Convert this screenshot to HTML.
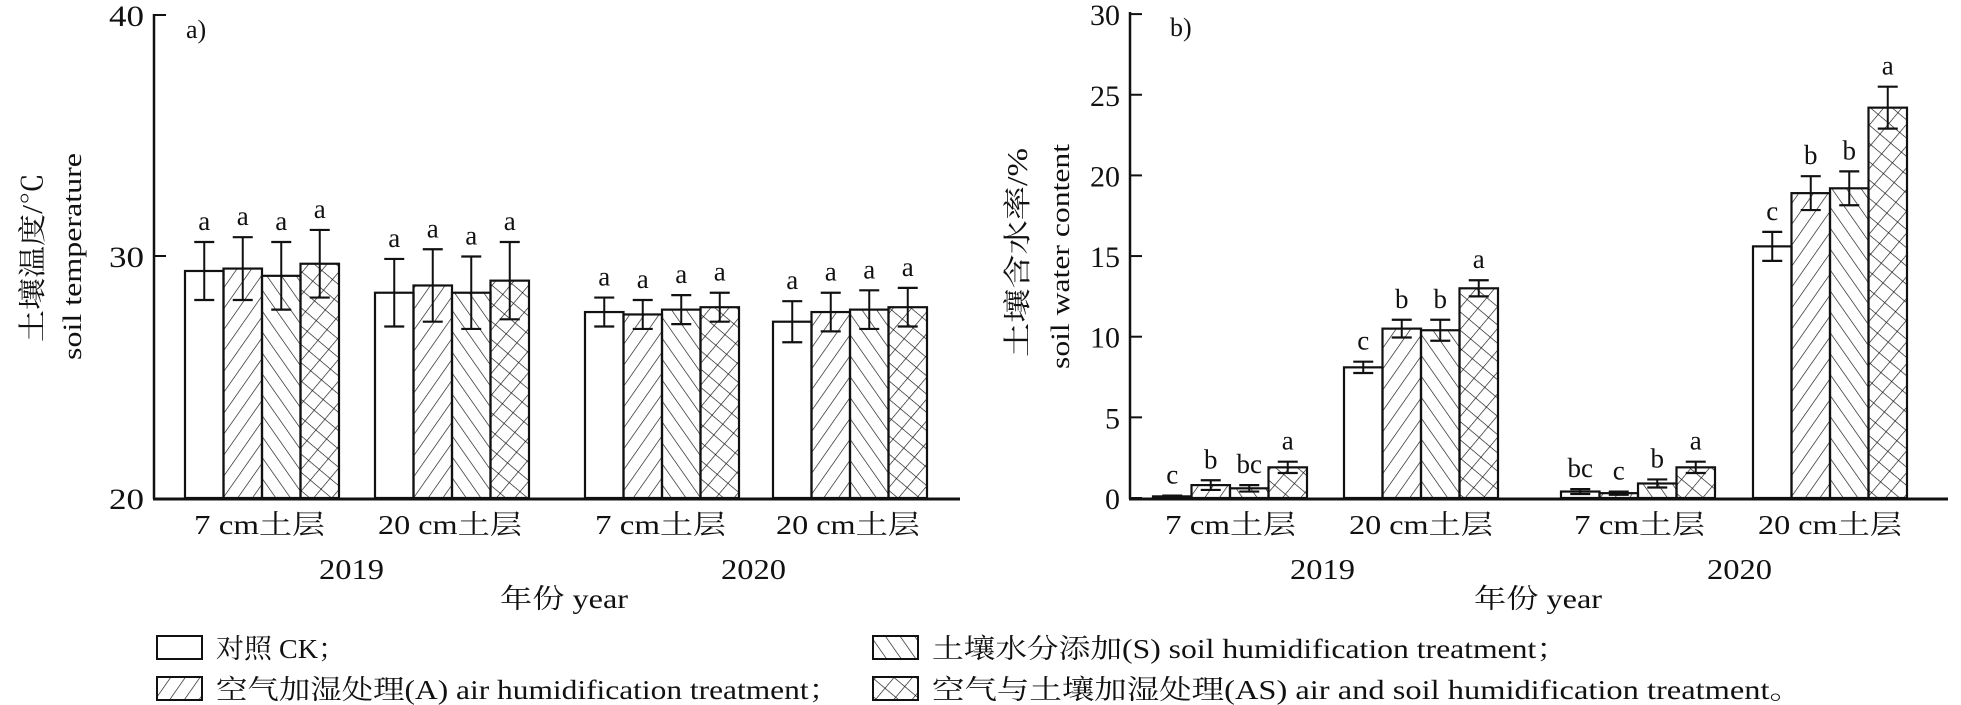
<!DOCTYPE html>
<html><head><meta charset="utf-8"><style>
html,body{margin:0;padding:0;background:#fff;}
svg{display:block;}
text{font-family:"Liberation Serif","Noto Serif CJK SC","Noto Sans CJK SC",serif;fill:#111;}
</style></head><body>
<svg id="s" width="1961" height="705" viewBox="0 0 1961 705" xmlns="http://www.w3.org/2000/svg">
<defs>
<pattern id="pa" width="12" height="12" patternUnits="userSpaceOnUse" patternTransform="rotate(35)"><line x1="0" y1="0" x2="0" y2="12" stroke="#111" stroke-width="1.3"/></pattern>
<pattern id="ps" width="12" height="12" patternUnits="userSpaceOnUse" patternTransform="rotate(-35)"><line x1="0" y1="0" x2="0" y2="12" stroke="#111" stroke-width="1.3"/></pattern>
<pattern id="pas" width="14" height="14" patternUnits="userSpaceOnUse" patternTransform="rotate(40)"><line x1="0" y1="0" x2="0" y2="14" stroke="#111" stroke-width="1.3"/><line x1="0" y1="0" x2="14" y2="0" stroke="#111" stroke-width="1.3"/></pattern>
</defs>
<g id="g"></g>
<line x1="154" y1="14" x2="154" y2="499" stroke="#111" stroke-width="2.5"/>
<line x1="153" y1="499" x2="960" y2="499" stroke="#111" stroke-width="3"/>
<line x1="154" y1="15" x2="166" y2="15" stroke="#111" stroke-width="2"/>
<line x1="154" y1="256" x2="166" y2="256" stroke="#111" stroke-width="2"/>
<text x="144" y="26" font-size="30" text-anchor="end" textLength="35" lengthAdjust="spacingAndGlyphs">40</text>
<text x="144" y="267" font-size="30" text-anchor="end" textLength="35" lengthAdjust="spacingAndGlyphs">30</text>
<text x="144" y="509" font-size="30" text-anchor="end" textLength="35" lengthAdjust="spacingAndGlyphs">20</text>
<text x="186" y="38" font-size="26">a)</text>
<text transform="translate(42,342) rotate(-90)" font-size="28" textLength="169" lengthAdjust="spacingAndGlyphs">土壤温度/℃</text>
<text transform="translate(81,360) rotate(-90)" font-size="26" textLength="207" lengthAdjust="spacingAndGlyphs">soil temperature</text>
<text x="194" y="534" font-size="27" textLength="131" lengthAdjust="spacingAndGlyphs">7 cm土层</text>
<text x="378" y="534" font-size="27" textLength="144" lengthAdjust="spacingAndGlyphs">20 cm土层</text>
<text x="595" y="534" font-size="27" textLength="131" lengthAdjust="spacingAndGlyphs">7 cm土层</text>
<text x="776" y="534" font-size="27" textLength="144" lengthAdjust="spacingAndGlyphs">20 cm土层</text>
<text x="319" y="579" font-size="29" textLength="65" lengthAdjust="spacingAndGlyphs">2019</text>
<text x="721" y="579" font-size="29" textLength="65" lengthAdjust="spacingAndGlyphs">2020</text>
<text x="500" y="608" font-size="27" textLength="128" lengthAdjust="spacingAndGlyphs">年份 year</text>
<line x1="1130" y1="12" x2="1130" y2="499" stroke="#111" stroke-width="2.5"/>
<line x1="1129" y1="499" x2="1948" y2="499" stroke="#111" stroke-width="3"/>
<g id="rt"></g>
<text x="1170" y="36" font-size="26">b)</text>
<text transform="translate(1027,357) rotate(-90)" font-size="28" textLength="209" lengthAdjust="spacingAndGlyphs">土壤含水率/%</text>
<text transform="translate(1069,369) rotate(-90)" font-size="26" textLength="225" lengthAdjust="spacingAndGlyphs">soil water content</text>
<text x="1165" y="534" font-size="27" textLength="131" lengthAdjust="spacingAndGlyphs">7 cm土层</text>
<text x="1349" y="534" font-size="27" textLength="144" lengthAdjust="spacingAndGlyphs">20 cm土层</text>
<text x="1574" y="534" font-size="27" textLength="131" lengthAdjust="spacingAndGlyphs">7 cm土层</text>
<text x="1758" y="534" font-size="27" textLength="144" lengthAdjust="spacingAndGlyphs">20 cm土层</text>
<text x="1290" y="579" font-size="29" textLength="65" lengthAdjust="spacingAndGlyphs">2019</text>
<text x="1707" y="579" font-size="29" textLength="65" lengthAdjust="spacingAndGlyphs">2020</text>
<text x="1474" y="608" font-size="27" textLength="128" lengthAdjust="spacingAndGlyphs">年份 year</text>
<rect x="157" y="636" width="45" height="23" fill="#fff" stroke="#111" stroke-width="2"/>
<text x="216" y="658" font-size="27" textLength="130" lengthAdjust="spacingAndGlyphs">对照 CK；</text>
<rect x="157" y="677" width="45" height="23" fill="url(#pa)" stroke="#111" stroke-width="2"/>
<text x="216" y="699" font-size="27" textLength="624" lengthAdjust="spacingAndGlyphs">空气加湿处理(A) air humidification treatment；</text>
<rect x="873" y="636" width="45" height="23" fill="url(#ps)" stroke="#111" stroke-width="2"/>
<text x="932" y="658" font-size="27" textLength="636" lengthAdjust="spacingAndGlyphs">土壤水分添加(S) soil humidification treatment；</text>
<rect x="873" y="677" width="45" height="23" fill="url(#pas)" stroke="#111" stroke-width="2"/>
<text x="932" y="699" font-size="27" textLength="870" lengthAdjust="spacingAndGlyphs">空气与土壤加湿处理(AS) air and soil humidification treatment。</text>
</svg>
<script>
var NS="http://www.w3.org/2000/svg",g=document.getElementById("g"),rt=document.getElementById("rt");
function el(t,a,p){var e=document.createElementNS(NS,t);for(var k in a)e.setAttribute(k,a[k]);(p||g).appendChild(e);return e;}
var fills=["#fff","url(#pa)","url(#ps)","url(#pas)"];
function draw(starts,vals,errs,lets,yf,base){
 for(var gi=0;gi<4;gi++)for(var i=0;i<4;i++){
  var x=starts[gi]+i*38.5,w=38.5,v=vals[gi][i],e=errs[gi][i],y=yf(v);
  el("rect",{x:x,y:y,width:w,height:base-y,fill:fills[i],stroke:"#111","stroke-width":2.2});
  var cx=x+w/2,y1=yf(v+e),y2=yf(v-e);
  el("line",{x1:cx,y1:y1,x2:cx,y2:y2,stroke:"#111","stroke-width":2});
  el("line",{x1:cx-10,y1:y1,x2:cx+10,y2:y1,stroke:"#111","stroke-width":2.2});
  el("line",{x1:cx-10,y1:y2,x2:cx+10,y2:y2,stroke:"#111","stroke-width":2.2});
  var t=el("text",{x:cx,y:y1-12,"font-size":27,"text-anchor":"middle"});t.textContent=lets[gi][i];
 }
}
draw([185,375,585,773],
 [[29.4,29.5,29.2,29.7],[28.5,28.8,28.5,29.0],[27.7,27.6,27.8,27.9],[27.3,27.7,27.8,27.9]],
 [[1.2,1.3,1.4,1.4],[1.4,1.5,1.5,1.6],[0.6,0.6,0.6,0.6],[0.85,0.8,0.8,0.8]],
 [["a","a","a","a"],["a","a","a","a"],["a","a","a","a"],["a","a","a","a"]],
 function(v){return 498-(v-20)*24.15;},498);
draw([1153,1344,1561,1753],
 [[0.1,0.8,0.6,1.9],[8.1,10.5,10.4,13.0],[0.4,0.3,0.9,1.9],[15.6,18.9,19.2,24.2]],
 [[0.05,0.3,0.2,0.35],[0.35,0.55,0.65,0.5],[0.15,0.1,0.25,0.35],[0.9,1.05,1.05,1.3]],
 [["c","b","bc","a"],["c","b","b","a"],["bc","c","b","a"],["c","b","b","a"]],
 function(v){return 498-v*16.13;},498);
[0,5,10,15,20,25,30].forEach(function(v){var y=498-v*16.13;
 el("line",{x1:1130,y1:y,x2:1142,y2:y,stroke:"#111","stroke-width":2},rt);
 var t=el("text",{x:1120,y:y+11,"font-size":30,"text-anchor":"end"},rt);t.textContent=v;});
</script>
</body></html>
